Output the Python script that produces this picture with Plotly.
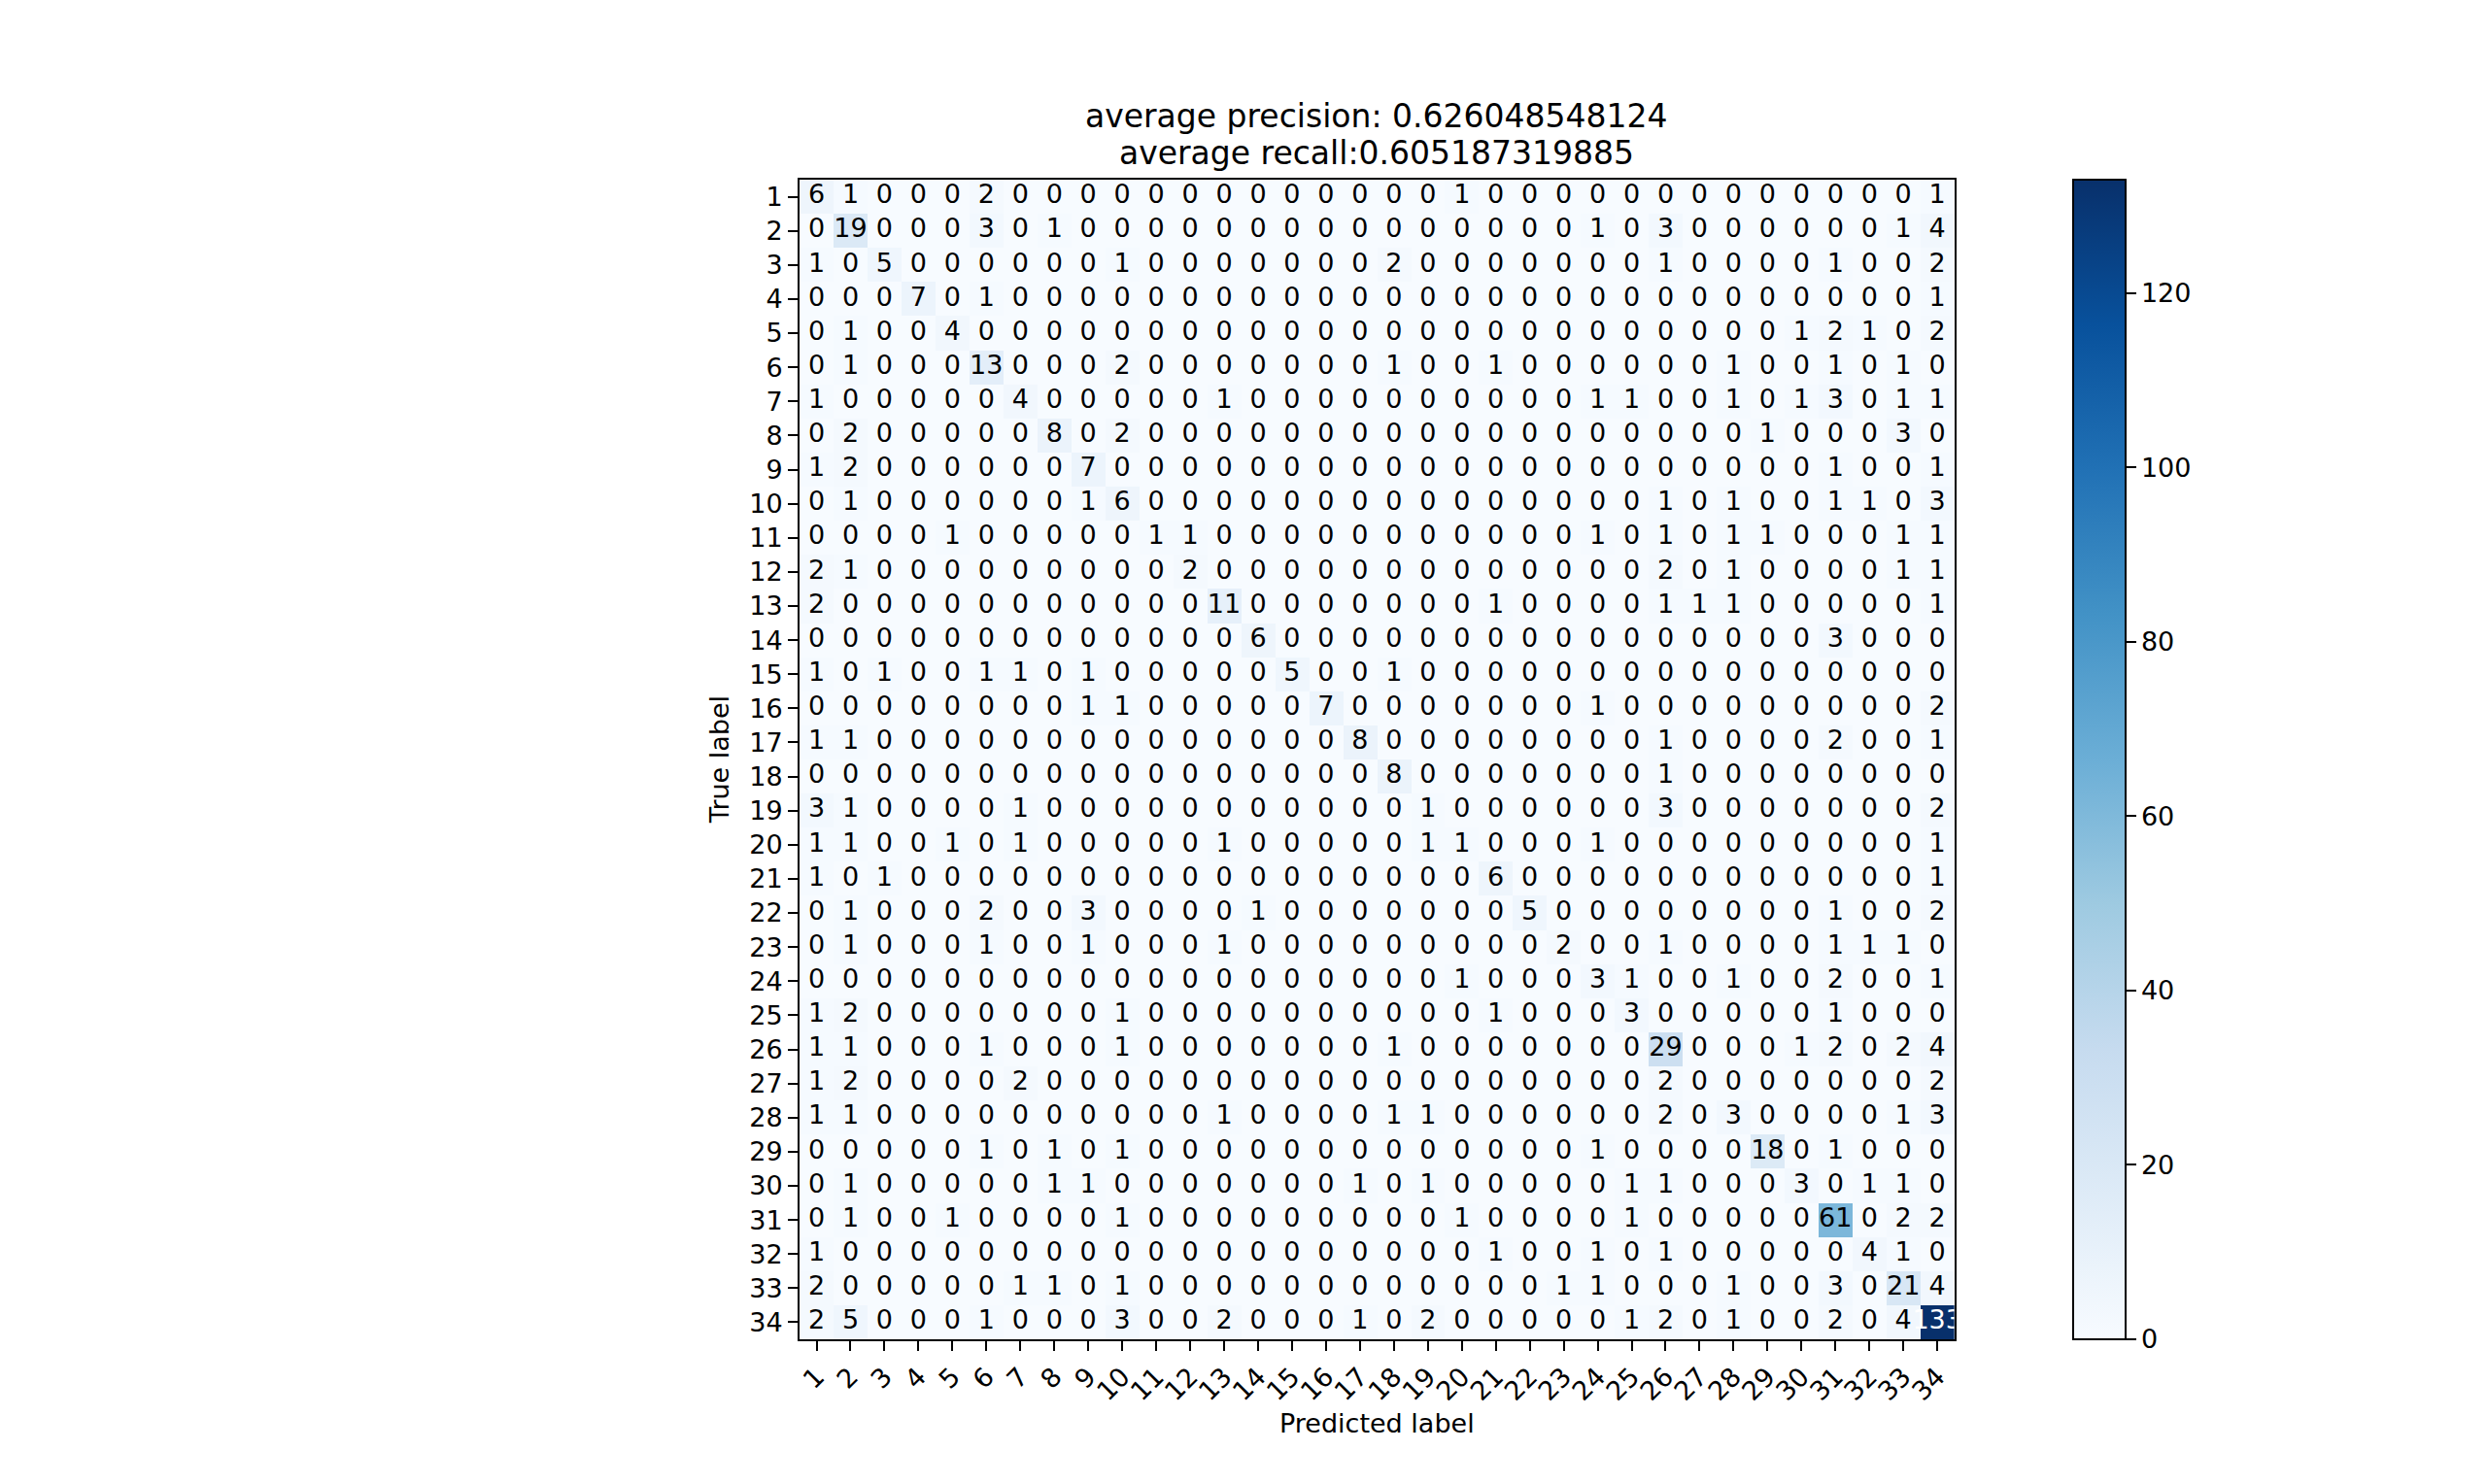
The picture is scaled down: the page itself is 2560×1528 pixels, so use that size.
import numpy as np
import plotly.graph_objects as go

W, H = 2560, 1528

class_labels = [str(i) for i in range(1, 35)]

counts = [
    [6,1,0,0,0,2,0,0,0,0,0,0,0,0,0,0,0] + [0,0,1,0,0,0,0,0,0,0,0,0,0,0,0,0,1],
    [0,19,0,0,0,3,0,1,0,0,0,0,0,0,0,0,0] + [0,0,0,0,0,0,1,0,3,0,0,0,0,0,0,1,4],
    [1,0,5,0,0,0,0,0,0,1,0,0,0,0,0,0,0] + [2,0,0,0,0,0,0,0,1,0,0,0,0,1,0,0,2],
    [0,0,0,7,0,1,0,0,0,0,0,0,0,0,0,0,0] + [0,0,0,0,0,0,0,0,0,0,0,0,0,0,0,0,1],
    [0,1,0,0,4,0,0,0,0,0,0,0,0,0,0,0,0] + [0,0,0,0,0,0,0,0,0,0,0,0,1,2,1,0,2],
    [0,1,0,0,0,13,0,0,0,2,0,0,0,0,0,0,0] + [1,0,0,1,0,0,0,0,0,0,1,0,0,1,0,1,0],
    [1,0,0,0,0,0,4,0,0,0,0,0,1,0,0,0,0] + [0,0,0,0,0,0,1,1,0,0,1,0,1,3,0,1,1],
    [0,2,0,0,0,0,0,8,0,2,0,0,0,0,0,0,0] + [0,0,0,0,0,0,0,0,0,0,0,1,0,0,0,3,0],
    [1,2,0,0,0,0,0,0,7,0,0,0,0,0,0,0,0] + [0,0,0,0,0,0,0,0,0,0,0,0,0,1,0,0,1],
    [0,1,0,0,0,0,0,0,1,6,0,0,0,0,0,0,0] + [0,0,0,0,0,0,0,0,1,0,1,0,0,1,1,0,3],
    [0,0,0,0,1,0,0,0,0,0,1,1,0,0,0,0,0] + [0,0,0,0,0,0,1,0,1,0,1,1,0,0,0,1,1],
    [2,1,0,0,0,0,0,0,0,0,0,2,0,0,0,0,0] + [0,0,0,0,0,0,0,0,2,0,1,0,0,0,0,1,1],
    [2,0,0,0,0,0,0,0,0,0,0,0,11,0,0,0,0] + [0,0,0,1,0,0,0,0,1,1,1,0,0,0,0,0,1],
    [0,0,0,0,0,0,0,0,0,0,0,0,0,6,0,0,0] + [0,0,0,0,0,0,0,0,0,0,0,0,0,3,0,0,0],
    [1,0,1,0,0,1,1,0,1,0,0,0,0,0,5,0,0] + [1,0,0,0,0,0,0,0,0,0,0,0,0,0,0,0,0],
    [0,0,0,0,0,0,0,0,1,1,0,0,0,0,0,7,0] + [0,0,0,0,0,0,1,0,0,0,0,0,0,0,0,0,2],
    [1,1,0,0,0,0,0,0,0,0,0,0,0,0,0,0,8] + [0,0,0,0,0,0,0,0,1,0,0,0,0,2,0,0,1],
    [0,0,0,0,0,0,0,0,0,0,0,0,0,0,0,0,0] + [8,0,0,0,0,0,0,0,1,0,0,0,0,0,0,0,0],
    [3,1,0,0,0,0,1,0,0,0,0,0,0,0,0,0,0] + [0,1,0,0,0,0,0,0,3,0,0,0,0,0,0,0,2],
    [1,1,0,0,1,0,1,0,0,0,0,0,1,0,0,0,0] + [0,1,1,0,0,0,1,0,0,0,0,0,0,0,0,0,1],
    [1,0,1,0,0,0,0,0,0,0,0,0,0,0,0,0,0] + [0,0,0,6,0,0,0,0,0,0,0,0,0,0,0,0,1],
    [0,1,0,0,0,2,0,0,3,0,0,0,0,1,0,0,0] + [0,0,0,0,5,0,0,0,0,0,0,0,0,1,0,0,2],
    [0,1,0,0,0,1,0,0,1,0,0,0,1,0,0,0,0] + [0,0,0,0,0,2,0,0,1,0,0,0,0,1,1,1,0],
    [0,0,0,0,0,0,0,0,0,0,0,0,0,0,0,0,0] + [0,0,1,0,0,0,3,1,0,0,1,0,0,2,0,0,1],
    [1,2,0,0,0,0,0,0,0,1,0,0,0,0,0,0,0] + [0,0,0,1,0,0,0,3,0,0,0,0,0,1,0,0,0],
    [1,1,0,0,0,1,0,0,0,1,0,0,0,0,0,0,0] + [1,0,0,0,0,0,0,0,29,0,0,0,1,2,0,2,4],
    [1,2,0,0,0,0,2,0,0,0,0,0,0,0,0,0,0] + [0,0,0,0,0,0,0,0,2,0,0,0,0,0,0,0,2],
    [1,1,0,0,0,0,0,0,0,0,0,0,1,0,0,0,0] + [1,1,0,0,0,0,0,0,2,0,3,0,0,0,0,1,3],
    [0,0,0,0,0,1,0,1,0,1,0,0,0,0,0,0,0] + [0,0,0,0,0,0,1,0,0,0,0,18,0,1,0,0,0],
    [0,1,0,0,0,0,0,1,1,0,0,0,0,0,0,0,1] + [0,1,0,0,0,0,0,1,1,0,0,0,3,0,1,1,0],
    [0,1,0,0,1,0,0,0,0,1,0,0,0,0,0,0,0] + [0,0,1,0,0,0,0,1,0,0,0,0,0,61,0,2,2],
    [1,0,0,0,0,0,0,0,0,0,0,0,0,0,0,0,0] + [0,0,0,1,0,0,1,0,1,0,0,0,0,0,4,1,0],
    [2,0,0,0,0,0,1,1,0,1,0,0,0,0,0,0,0] + [0,0,0,0,0,1,1,0,0,0,1,0,0,3,0,21,4],
    [2,5,0,0,0,1,0,0,0,3,0,0,2,0,0,0,1] + [0,2,0,0,0,0,0,1,2,0,1,0,0,2,0,4,133],
]

avg_precision = "0.626048548124"
avg_recall = "0.605187319885"
colorbar_ticks = [0, 20, 40, 60, 80, 100, 120]

blues = ['rgb(247,251,255)', 'rgb(222,235,247)', 'rgb(198,219,239)',
         'rgb(158,202,225)', 'rgb(107,174,214)', 'rgb(66,146,198)',
         'rgb(33,113,181)', 'rgb(8,81,156)', 'rgb(8,48,107)']
colorscale = [[i / 8, c] for i, c in enumerate(blues)]

cm = np.array(counts)
n = cm.shape[0]
idx = np.arange(n)
vmax = cm.max()
thresh = vmax / 2.0

FONT = "DejaVu Sans"
FS = 27
TFS = 33

# plot area in pixels
L, R, T, B = 821, 2011, 185, 1379
xd = [L / W, R / W]
yd = [1 - B / H, 1 - T / H]

fig = go.Figure()
fig.add_trace(go.Heatmap(
    z=cm, x=idx, y=idx, colorscale=colorscale, zmin=0, zmax=vmax,
    showscale=True,
    colorbar=dict(
        x=2134 / W, xanchor="left", xref="paper",
        y=yd[0], yanchor="bottom", yref="paper",
        len=yd[1] - yd[0], lenmode="fraction",
        thickness=54, thicknessmode="pixels",
        xpad=0, ypad=0,
        outlinewidth=2, outlinecolor="black",
        tickvals=colorbar_ticks, ticks="outside", ticklen=10, tickwidth=2,
        tickcolor="black", tickprefix="\u2002\u200a",
        tickfont=dict(family=FONT, size=FS, color="black"),
    ),
    hoverinfo="skip",
))

xs, ys, txt, cols = [], [], [], []
for i in range(n):
    for j in range(n):
        xs.append(j)
        ys.append(i)
        txt.append(str(cm[i, j]))
        cols.append("white" if cm[i, j] > thresh else "black")
fig.add_trace(go.Scatter(
    x=xs, y=ys, mode="text", text=txt,
    textfont=dict(family=FONT, size=FS, color=cols),
    textposition="middle center", hoverinfo="skip", showlegend=False,
))

axis_common = dict(
    showgrid=False, zeroline=False, showline=True, linecolor="black",
    linewidth=2, mirror=True, ticks="outside", ticklen=10, tickwidth=2,
    tickcolor="black", tickfont=dict(family=FONT, size=FS, color="black"),
)
fig.update_layout(
    width=W, height=H,
    margin=dict(l=0, r=0, t=0, b=0),
    paper_bgcolor="white", plot_bgcolor="white",
    showlegend=False,
    xaxis=dict(domain=xd, range=[-0.5, n - 0.5], tickvals=list(idx),
               ticktext=class_labels, tickangle=-45, **axis_common),
    yaxis=dict(domain=yd, range=[n - 0.5, -0.5], tickvals=list(idx),
               ticktext=class_labels, **axis_common),
    annotations=[
        dict(text="average precision: " + avg_precision, x=(L + R) / 2 / W,
             y=1 - 119 / H, xref="paper", yref="paper", showarrow=False,
             xanchor="center", yanchor="middle",
             font=dict(family=FONT, size=TFS, color="black")),
        dict(text="average recall:" + avg_recall, x=(L + R) / 2 / W,
             y=1 - 157 / H, xref="paper", yref="paper", showarrow=False,
             xanchor="center", yanchor="middle",
             font=dict(family=FONT, size=TFS, color="black")),
        dict(text="Predicted label", x=(L + R) / 2 / W, y=1 - 1465 / H,
             xref="paper", yref="paper", showarrow=False,
             xanchor="center", yanchor="middle",
             font=dict(family=FONT, size=FS, color="black")),
        dict(text="True label", x=738 / W, y=1 - 782 / H,
             xref="paper", yref="paper", showarrow=False, textangle=-90,
             xanchor="center", yanchor="middle",
             font=dict(family=FONT, size=FS, color="black")),
    ],
)

fig.write_html("out.html")
